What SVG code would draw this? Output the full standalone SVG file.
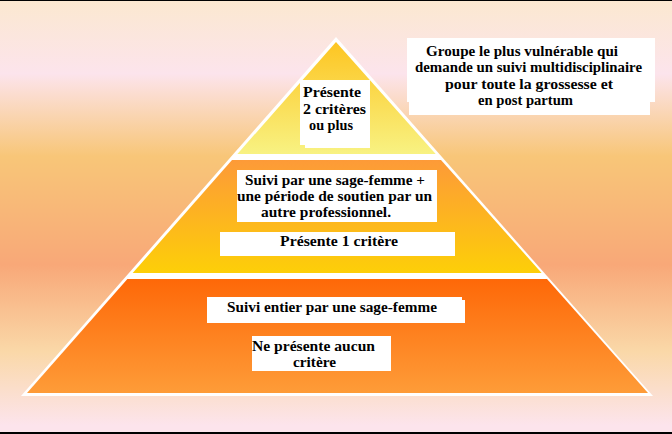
<svg xmlns="http://www.w3.org/2000/svg" width="672" height="434" viewBox="0 0 672 434">
<defs>
<linearGradient id="bg" x1="0" y1="0" x2="0" y2="1">
<stop offset="0" stop-color="#fbe8d0"/>
<stop offset="0.17" stop-color="#fce4ec"/>
<stop offset="0.36" stop-color="#f8c678"/>
<stop offset="0.61" stop-color="#f8a878"/>
<stop offset="0.81" stop-color="#fad8a8"/>
<stop offset="0.98" stop-color="#fce4ec"/>
</linearGradient>
<linearGradient id="gTop" x1="0" y1="0" x2="0" y2="1">
<stop offset="0" stop-color="#fdc522"/>
<stop offset="1" stop-color="#f8f282"/>
</linearGradient>
<linearGradient id="gMid" x1="0" y1="0" x2="0" y2="1">
<stop offset="0" stop-color="#fd9a38"/>
<stop offset="1" stop-color="#fdcf08"/>
</linearGradient>
<linearGradient id="gBot" x1="0" y1="0" x2="0" y2="1">
<stop offset="0" stop-color="#fe6808"/>
<stop offset="1" stop-color="#fe9c38"/>
</linearGradient>
</defs>
<style>
.box{fill:#ffffff}
.t{font-family:"Liberation Serif","Times New Roman",serif;font-weight:bold;font-size:15px;fill:#000}
</style>
<rect x="0" y="0" width="672" height="434" fill="url(#bg)"/>
<rect x="0" y="0" width="672" height="1" fill="#000"/>
<rect x="0" y="432" width="672" height="2" fill="#000"/>

<g id="pyramid">
<polygon points="336,37 653,396 21,396" fill="#ffffff"/>
<polygon points="336,42 435.7,154 237.4,154" fill="url(#gTop)"/>
<polygon points="232,160 441,160 541.6,273 132.7,273" fill="url(#gMid)"/>
<polygon points="127.4,279 547,279 648,393 27,393" fill="url(#gBot)"/>
</g>

<g id="node-top">
<rect class="box" x="300" y="80" width="70" height="65"/>
<rect class="box" x="305" y="83" width="65" height="65"/>
<text class="t" x="303" y="97" textLength="58" lengthAdjust="spacingAndGlyphs">Présente</text>
<text class="t" x="303" y="113.5" textLength="63" lengthAdjust="spacingAndGlyphs">2 critères</text>
<text class="t" x="309" y="130" textLength="44" lengthAdjust="spacingAndGlyphs">ou plus</text>
</g>

<g id="node-note">
<rect class="box" x="407" y="38" width="248" height="64"/>
<rect class="box" x="409" y="45" width="241" height="70"/>
<text class="t" x="426" y="56" textLength="192" lengthAdjust="spacingAndGlyphs">Groupe le plus vulnérable qui</text>
<text class="t" x="415" y="72" textLength="227" lengthAdjust="spacingAndGlyphs">demande un suivi multidisciplinaire</text>
<text class="t" x="445" y="88.5" textLength="168" lengthAdjust="spacingAndGlyphs">pour toute la grossesse et</text>
<text class="t" x="478" y="105" textLength="95" lengthAdjust="spacingAndGlyphs">en post partum</text>
</g>

<g id="node-mid">
<rect class="box" x="237" y="170" width="200" height="52"/>
<text class="t" x="245" y="184.5" textLength="180" lengthAdjust="spacingAndGlyphs">Suivi par une sage-femme +</text>
<text class="t" x="237" y="200.5" textLength="195" lengthAdjust="spacingAndGlyphs">une période de soutien par un</text>
<text class="t" x="261" y="217" textLength="130" lengthAdjust="spacingAndGlyphs">autre professionnel.</text>
</g>

<g id="node-mid-crit">
<rect class="box" x="220" y="232" width="235" height="24"/>
<text class="t" x="280" y="246" textLength="118" lengthAdjust="spacingAndGlyphs">Présente 1 critère</text>
</g>

<g id="node-bot">
<rect class="box" x="207" y="300" width="258" height="23"/>
<rect class="box" x="207" y="297" width="255" height="10"/>
<text class="t" x="227" y="312" textLength="210" lengthAdjust="spacingAndGlyphs">Suivi entier par une sage-femme</text>
</g>

<g id="node-bot-crit">
<rect class="box" x="252" y="336" width="139" height="35"/>
<text class="t" x="252" y="350.5" textLength="123" lengthAdjust="spacingAndGlyphs">Ne présente aucun</text>
<text class="t" x="293" y="367" textLength="43" lengthAdjust="spacingAndGlyphs">critère</text>
</g>
</svg>
